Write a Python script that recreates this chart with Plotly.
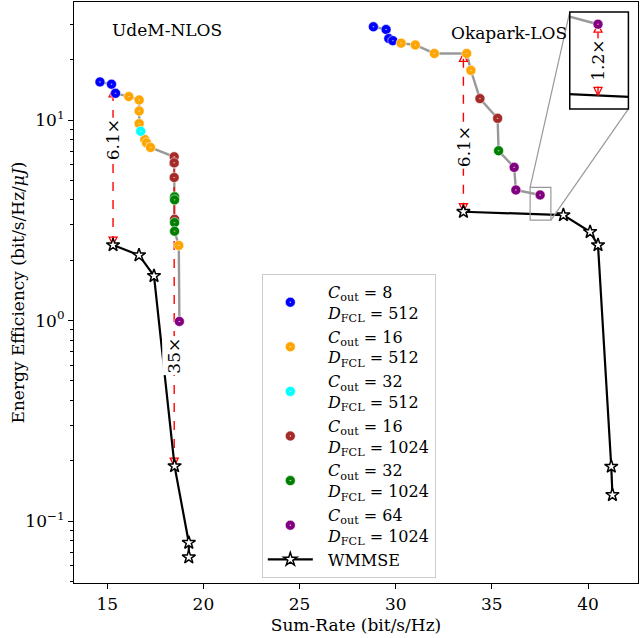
import numpy as np
import plotly.graph_objects as go

# ---------------- data ----------------
configs = ["C8_D512", "C16_D512", "C32_D512", "C16_D1024", "C32_D1024", "C64_D1024"]
config_labels = [
    "<i>C</i><sub>out</sub> = 8<br><i>D</i><sub>FCL</sub> = 512",
    "<i>C</i><sub>out</sub> = 16<br><i>D</i><sub>FCL</sub> = 512",
    "<i>C</i><sub>out</sub> = 32<br><i>D</i><sub>FCL</sub> = 512",
    "<i>C</i><sub>out</sub> = 16<br><i>D</i><sub>FCL</sub> = 1024",
    "<i>C</i><sub>out</sub> = 32<br><i>D</i><sub>FCL</sub> = 1024",
    "<i>C</i><sub>out</sub> = 64<br><i>D</i><sub>FCL</sub> = 1024",
]
config_colors = ["#0000ff", "#ffa500", "#00ffff", "#a52a2a", "#008000", "#800080"]

# UdeM-NLOS frontier (ordered along the grey line)
udem_rate = [14.62, 15.22, 15.43, 16.12, 16.66, 16.66, 16.66, 16.74, 16.95, 17.04, 17.25,
             18.48, 18.48, 18.48, 18.50, 18.50, 18.50, 18.50, 18.50, 18.72, 18.75]
udem_ee = [15.5, 15.1, 13.6, 13.1, 12.6, 11.1, 9.6, 8.8, 8.0, 7.7, 7.3,
           6.56, 6.12, 5.17, 4.14, 4.0, 3.2, 3.08, 2.79, 2.37, 0.99]
udem_cfg = [0, 0, 0, 1, 1, 1, 1, 2, 1, 1, 1,
            3, 3, 3, 4, 4, 3, 4, 4, 1, 5]

# Okapark-LOS frontier
oka_rate = [28.84, 29.50, 29.64, 29.85, 30.28, 31.02, 32.01, 33.69, 33.91,
            34.38, 35.30, 35.35, 36.16, 36.25, 37.51]
oka_ee = [29.2, 28.3, 25.5, 24.9, 24.2, 23.7, 21.5, 21.5, 17.7,
          12.8, 10.2, 7.03, 5.81, 4.48, 4.23]
oka_cfg = [0, 0, 0, 0, 1, 1, 1, 1, 1,
           3, 3, 4, 5, 5, 5]

# WMMSE baselines
wm_udem_rate = [15.30, 16.65, 17.43, 18.50, 19.24, 19.24]
wm_udem_ee = [2.38, 2.12, 1.67, 0.188, 0.078, 0.066]
wm_oka_rate = [33.52, 38.72, 40.11, 40.52, 41.21, 41.27]
wm_oka_ee = [3.49, 3.36, 2.77, 2.38, 0.187, 0.135]

# gain arrows: x, bottom, top, label, label y
gain_x = [15.30, 18.48, 33.52]
gain_bottom = [2.38, 0.188, 3.49]
gain_top = [14.3, 6.56, 21.5]
gain_label = ["6.1×", "35×", "6.1×"]
gain_label_y = [7.94, 0.67, 7.36]

inset_gain_x = 37.51
inset_gain_bottom = 3.39
inset_gain_top = 4.23
inset_gain_label = "1.2×"

dataset_names = ["UdeM-NLOS", "Okapark-LOS"]
dataset_name_x = [18.1, 35.9]
dataset_name_y = [28.1, 27.2]

x_ticks = [15, 20, 25, 30, 35, 40]
y_ticks = [0.1, 1, 10]
y_ticktext = ["10<sup>−1</sup>", "10<sup>0</sup>", "10<sup>1</sup>"]
y_minor = [0.05, 0.06, 0.07, 0.08, 0.09, 0.2, 0.3, 0.4, 0.5, 0.6, 0.7, 0.8, 0.9,
           2, 3, 4, 5, 6, 7, 8, 9, 20, 30]

# ---------------- layout constants ----------------
FONT = "DejaVu Serif"
FS = 17
XR = [13.27, 42.6]
YR = [-1.309, 1.589]          # log10 range
INSET_XR = [36.99, 38.07]
INSET_YR = [0.512, 0.643]     # log10 range
INSET_DOM_X = [0.879, 0.983]
INSET_DOM_Y = [0.816, 0.983]
BOX_X = [36.99, 38.07]        # zoom box on main axes (data)
BOX_Y = [3.17, 4.62]

def px(x):
    return (x - XR[0]) / (XR[1] - XR[0])

def py(y):
    return (np.log10(y) - YR[0]) / (YR[1] - YR[0])

fig = go.Figure()

GREY = "#999999"

def add_frontier(rate, ee):
    fig.add_trace(go.Scatter(x=rate, y=ee, mode="lines", line=dict(color=GREY, width=2.4),
                             showlegend=False, hoverinfo="skip"))

add_frontier(udem_rate, udem_ee)
add_frontier(oka_rate, oka_ee)

def add_gain(x, lo, hi, xa="x", ya="y"):
    fig.add_trace(go.Scatter(x=[x, x], y=[lo, hi], mode="lines", showlegend=False,
                             hoverinfo="skip", xaxis=xa, yaxis=ya,
                             line=dict(color="red", width=1.4, dash="dash")))
    fig.add_trace(go.Scatter(x=[x, x], y=[hi, lo], mode="markers", showlegend=False,
                             hoverinfo="skip", xaxis=xa, yaxis=ya,
                             marker=dict(symbol=["arrow-up-open", "arrow-down-open"],
                                         size=8, color="red",
                                         line=dict(color="red", width=1.3))))

for gx, gb, gt in zip(gain_x, gain_bottom, gain_top):
    add_gain(gx, gb, gt)

MARK = dict(symbol="circle-dot", size=10, line=dict(color="rgba(255,255,255,0.55)", width=1))

for k in range(len(configs)):
    xs, ys = [], []
    for r, e, c in zip(udem_rate, udem_ee, udem_cfg):
        if c == k:
            xs.append(r); ys.append(e)
    for r, e, c in zip(oka_rate, oka_ee, oka_cfg):
        if c == k:
            xs.append(r); ys.append(e)
    label = config_labels[k].replace("<i>C</i>", "&nbsp;&nbsp;<i>C</i>").replace(
        "<i>D</i>", "&nbsp;&nbsp;<i>D</i>")
    fig.add_trace(go.Scatter(
        x=xs, y=ys, mode="markers", name=label,
        marker=dict(MARK, color=config_colors[k]),
    ))

STAR = dict(symbol="star", size=10, color="white", line=dict(color="black", width=1.5))
fig.add_trace(go.Scatter(
    x=wm_udem_rate, y=wm_udem_ee, mode="lines+markers", name="&nbsp;&nbsp;WMMSE",
    line=dict(color="black", width=2.2), marker=STAR,
))
fig.add_trace(go.Scatter(
    x=wm_oka_rate, y=wm_oka_ee, mode="lines+markers", name="WMMSE", showlegend=False,
    line=dict(color="black", width=2.2), marker=STAR,
))

# ---- inset traces ----
fig.add_trace(go.Scatter(x=oka_rate, y=oka_ee, mode="lines", line=dict(color=GREY, width=2.4),
                         showlegend=False, hoverinfo="skip", xaxis="x2", yaxis="y2"))
fig.add_trace(go.Scatter(x=wm_oka_rate, y=wm_oka_ee, mode="lines", showlegend=False,
                         line=dict(color="black", width=2.2), xaxis="x2", yaxis="y2"))
add_gain(inset_gain_x, inset_gain_bottom, inset_gain_top, "x2", "y2")
fig.add_trace(go.Scatter(x=[r for r, c in zip(oka_rate, oka_cfg) if c == 5],
                         y=[e for e, c in zip(oka_ee, oka_cfg) if c == 5],
                         mode="markers", showlegend=False, xaxis="x2", yaxis="y2",
                         marker=dict(MARK, color=config_colors[5])))

annotations = []
for gx, gl, gly in zip(gain_x, gain_label, gain_label_y):
    annotations.append(dict(x=gx, y=np.log10(gly), xref="x", yref="y", text=gl,
                            showarrow=False, textangle=-90, bgcolor="white",
                            font=dict(family=FONT, size=FS, color="black"), borderpad=1))
annotations.append(dict(x=inset_gain_x,
                        y=(np.log10(inset_gain_bottom) + np.log10(inset_gain_top)) / 2,
                        xref="x2", yref="y2", text=inset_gain_label,
                        showarrow=False, textangle=-90, bgcolor="white",
                        font=dict(family=FONT, size=FS, color="black"), borderpad=1))

for name, nx, ny in zip(dataset_names, dataset_name_x, dataset_name_y):
    annotations.append(dict(x=nx, y=np.log10(ny), xref="x", yref="y", text=name,
                            showarrow=False, font=dict(family=FONT, size=FS, color="black")))

# y-axis title placed as annotation
annotations.append(dict(x=-0.0993, y=0.5, xref="paper", yref="paper",
                        text="Energy Efficiency (bit/s/Hz/<i>μJ</i>)", textangle=-90,
                        showarrow=False, xanchor="center", yanchor="middle",
                        font=dict(family=FONT, size=FS, color="black")))

# zoom box and connectors (paper coords)
bx0, bx1 = px(BOX_X[0]), px(BOX_X[1])
by0, by1 = py(BOX_Y[0]), py(BOX_Y[1])
shapes = [
    dict(type="rect", xref="paper", yref="paper", x0=bx0, x1=bx1, y0=by0, y1=by1,
         line=dict(color="#999999", width=1.2)),
    dict(type="line", xref="paper", yref="paper", x0=bx0, y0=by1,
         x1=INSET_DOM_X[0], y1=INSET_DOM_Y[1], line=dict(color="#999999", width=1.2)),
    dict(type="line", xref="paper", yref="paper", x0=bx1, y0=by0,
         x1=INSET_DOM_X[1], y1=INSET_DOM_Y[0], line=dict(color="#999999", width=1.2)),
    dict(type="rect", xref="paper", yref="paper", x0=INSET_DOM_X[0], x1=INSET_DOM_X[1],
         y0=INSET_DOM_Y[0], y1=INSET_DOM_Y[1], fillcolor="rgba(0,0,0,0)",
         line=dict(color="black", width=1.5)),
]

axis_font = dict(family=FONT, size=FS, color="black")
fig.update_layout(
    width=640, height=638,
    margin=dict(l=74, r=2, t=2, b=55),
    paper_bgcolor="white", plot_bgcolor="white",
    font=axis_font,
    showlegend=True,
    legend=dict(x=0.333, y=0.532, xanchor="left", yanchor="top",
                bgcolor="rgba(255,255,255,0.8)", bordercolor="#cccccc", borderwidth=1,
                font=dict(family=FONT, size=16, color="black"),
                tracegroupgap=0, itemwidth=45),
    xaxis=dict(range=XR, tickvals=x_ticks, ticks="outside", ticklen=5, tickcolor="black",
               showline=True, linecolor="black", linewidth=1.2, mirror=True,
               showgrid=False, zeroline=False, automargin=False,
               title=dict(text="Sum-Rate (bit/s/Hz)", font=axis_font, standoff=6),
               tickfont=axis_font),
    yaxis=dict(type="log", range=YR, tickvals=y_ticks, ticktext=y_ticktext,
               ticks="outside", ticklen=5, tickcolor="black",
               minor=dict(tickvals=y_minor, ticks="outside", ticklen=3, tickcolor="black",
                          showgrid=False),
               showline=True, linecolor="black", linewidth=1.2, mirror=True,
               showgrid=False, zeroline=False, automargin=False,
               tickfont=axis_font),
    xaxis2=dict(domain=INSET_DOM_X, anchor="y2", range=INSET_XR, showticklabels=False,
                ticks="", showgrid=False, zeroline=False, showline=False),
    yaxis2=dict(domain=INSET_DOM_Y, anchor="x2", type="log", range=INSET_YR,
                showticklabels=False, ticks="", showgrid=False, zeroline=False,
                showline=False),
    annotations=annotations,
    shapes=shapes,
)

fig.write_html("out.html", config={"displayModeBar": False},
               post_script="document.body.style.margin='0';")
